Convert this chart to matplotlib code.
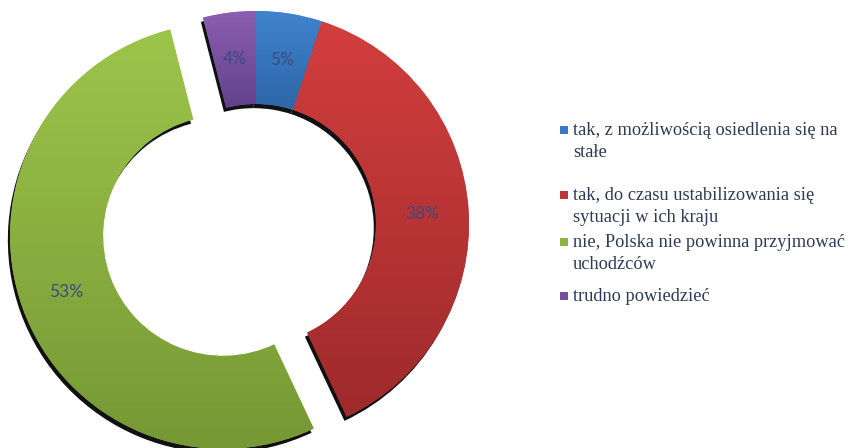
import matplotlib
matplotlib.use('Agg')
import matplotlib.pyplot as plt
import matplotlib.patches as mpatches
from matplotlib.colors import LinearSegmentedColormap
import numpy as np

# ---- data ----
labels = ['tak, z możliwością osiedlenia się na\nstałe',
          'tak, do czasu ustabilizowania się\nsytuacji w ich kraju',
          'nie, Polska nie powinna przyjmować\nuchodźców',
          'trudno powiedzieć']
values = [5, 38, 53, 4]
colors_top = ['#4083CF', '#D33E3E', '#9DC54B', '#8C5EB3']
colors_bottom = ['#2E66A6', '#9E2A2B', '#769835', '#62428A']
legend_colors = ['#3A78C4', '#C03535', '#8DB543', '#7650A0']
explode = [0, 0, 35, 0]

W, H = 854, 448
fig = plt.figure(figsize=(W / 100, H / 100), dpi=100)
ax = fig.add_axes([0, 0, 1, 1])

cx, cy = 256, H - 224
R, r_in = 213, 120

wedges, autotexts = ax.pie(
    values, colors=colors_top, explode=explode, startangle=90,
    counterclock=False, radius=R, center=(cx, cy),
    wedgeprops=dict(width=R - r_in, linewidth=0),
    autopct='%.0f%%', pctdistance=(R + r_in) / 2 / R,
    textprops=dict(color='#3B4A7E', fontsize=12.5, family='Lato'),
    shadow={'ox': -1.6, 'oy': -3.0, 'shade': 1.0})[0:3:2]

for p in ax.patches:
    if isinstance(p, mpatches.Shadow):
        p.set_zorder(0.5)
        p.set_facecolor('#111111')
        p.set_alpha(1)

grad = np.linspace(0, 1, 256).reshape(-1, 1)
for w, ct, cb in zip(wedges, colors_top, colors_bottom):
    w.set_zorder(1)
    ext = w.get_path().get_extents()
    cmap = LinearSegmentedColormap.from_list('g', [ct, cb])
    im = ax.imshow(grad, cmap=cmap, extent=(ext.x0, ext.x1, ext.y0, ext.y1),
                   origin='upper', aspect='auto', interpolation='bilinear',
                   zorder=1.5)
    im.set_clip_path(w)

for t in autotexts:
    t.set_zorder(3)

ax.set_aspect('auto')
ax.set_xlim(0, W)
ax.set_ylim(0, H)
ax.axis('off')

# ---- legend ----
line_centers = [130, 195, 242, 296]
line_gap = 22
tx = 573
for lab, col, yc in zip(labels, legend_colors, line_centers):
    for k, line in enumerate(lab.split('\n')):
        ax.text(tx, H - (yc + k * line_gap + 5), line, family='Liberation Serif',
                fontsize=13.2, color='#2C3A57', ha='left', va='baseline', zorder=3)
    ax.add_patch(mpatches.Rectangle((560, H - yc - 4), 8, 8, facecolor=col,
                                    edgecolor='none', zorder=3))

fig.savefig('out.png', dpi=100)
